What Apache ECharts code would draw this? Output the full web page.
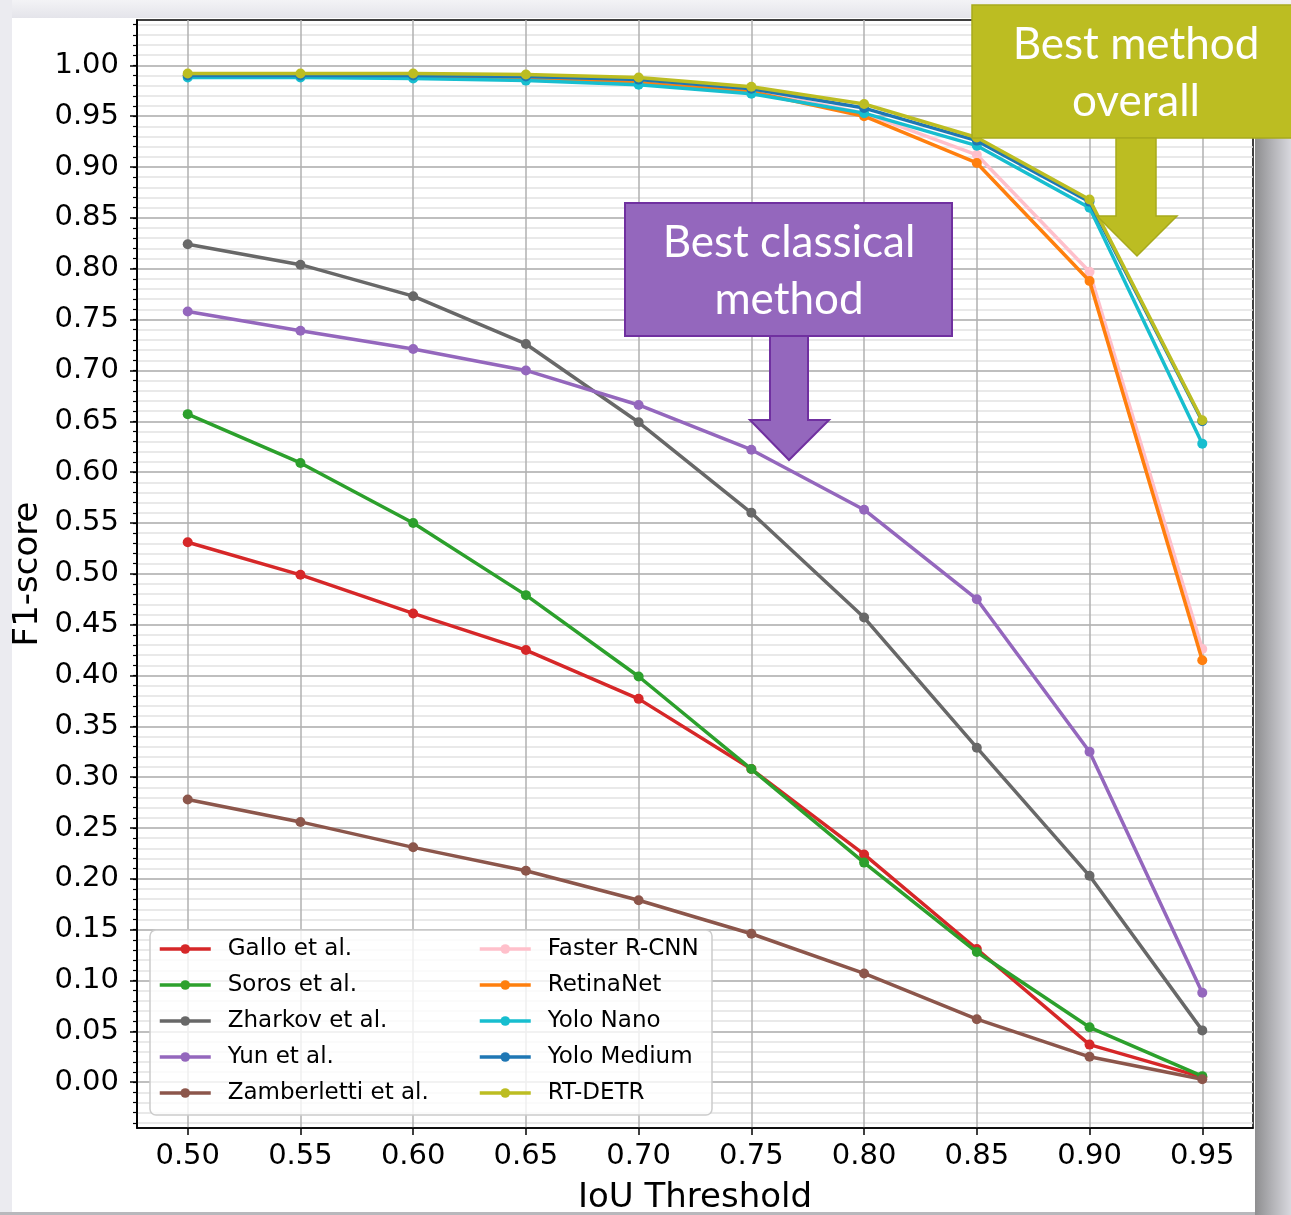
<!DOCTYPE html>
<html><head><meta charset="utf-8">
<script src="https://cdn.jsdelivr.net/npm/echarts@6/dist/echarts.min.js"></script>
<style>html,body{margin:0;padding:0;background:#fff}#c{width:1291px;height:1215px}</style>
</head><body><div id="c"></div>
<script>
// ---- data ----
const iouThresholds = [0.50, 0.55, 0.60, 0.65, 0.70, 0.75, 0.80, 0.85, 0.90, 0.95];
const yTickValues = [0.00,0.05,0.10,0.15,0.20,0.25,0.30,0.35,0.40,0.45,0.50,0.55,0.60,0.65,0.70,0.75,0.80,0.85,0.90,0.95,1.00];
const yMinorTickValues = [-0.04,-0.03,-0.02,-0.01,0.00,0.01,0.02,0.03,0.04,0.05,0.06,0.07,0.08,0.09,0.10,0.11,0.12,0.13,0.14,0.15,
  0.16,0.17,0.18,0.19,0.20,0.21,0.22,0.23,0.24,0.25,0.26,0.27,0.28,0.29,0.30,0.31,0.32,0.33,0.34,0.35,0.36,0.37,0.38,0.39,0.40,
  0.41,0.42,0.43,0.44,0.45,0.46,0.47,0.48,0.49,0.50,0.51,0.52,0.53,0.54,0.55,0.56,0.57,0.58,0.59,0.60,0.61,0.62,0.63,0.64,0.65,
  0.66,0.67,0.68,0.69,0.70,0.71,0.72,0.73,0.74,0.75,0.76,0.77,0.78,0.79,0.80,0.81,0.82,0.83,0.84,0.85,0.86,0.87,0.88,0.89,0.90,
  0.91,0.92,0.93,0.94,0.95,0.96,0.97,0.98,0.99,1.00,1.01,1.02,1.03,1.04];
const seriesNames = ['Gallo et al.', 'Soros et al.', 'Zharkov et al.', 'Yun et al.', 'Zamberletti et al.',
                     'Faster R-CNN', 'RetinaNet', 'Yolo Nano', 'Yolo Medium', 'RT-DETR'];
const gallo       = [0.531, 0.499, 0.461, 0.425, 0.377, 0.308, 0.224, 0.131, 0.037, 0.005];
const soros       = [0.657, 0.609, 0.550, 0.479, 0.399, 0.308, 0.216, 0.128, 0.054, 0.006];
const zharkov     = [0.824, 0.804, 0.773, 0.726, 0.649, 0.560, 0.457, 0.329, 0.203, 0.051];
const yun         = [0.758, 0.739, 0.721, 0.700, 0.666, 0.622, 0.563, 0.475, 0.325, 0.088];
const zamberletti = [0.278, 0.256, 0.231, 0.208, 0.179, 0.146, 0.107, 0.062, 0.025, 0.003];
const fasterRcnn  = [0.990, 0.990, 0.989, 0.988, 0.984, 0.975, 0.953, 0.912, 0.797, 0.426];
const retinaNet   = [0.990, 0.990, 0.989, 0.987, 0.983, 0.974, 0.950, 0.904, 0.788, 0.415];
const yoloNano    = [0.988, 0.988, 0.987, 0.985, 0.981, 0.972, 0.953, 0.921, 0.860, 0.628];
const yoloMedium  = [0.990, 0.990, 0.990, 0.989, 0.986, 0.977, 0.958, 0.926, 0.866, 0.650];
const rtDetr      = [0.992, 0.992, 0.992, 0.991, 0.988, 0.979, 0.962, 0.929, 0.868, 0.651];
const allValues = [gallo, soros, zharkov, yun, zamberletti, fasterRcnn, retinaNet, yoloNano, yoloMedium, rtDetr];
const colors = ['#d62728', '#2ca02c', '#686868', '#9467bd', '#8c564b',
                '#ffc0cb', '#ff7f0e', '#17becf', '#1f77b4', '#bcbd22'];

const FONT = 'DejaVu Sans';
const Y_MIN = -0.045, Y_MAX = 1.0446;
const chart = echarts.init(document.getElementById('c'), null, {renderer: 'canvas'});

const series = seriesNames.map((name, i) => ({
  name: name,
  type: 'line',
  xAxisIndex: 0,
  yAxisIndex: 1,
  data: iouThresholds.map((x, j) => [x, allValues[i][j]]),
  symbol: 'circle',
  symbolSize: 10,
  showSymbol: true,
  color: colors[i],
  lineStyle: {width: 3.5, color: colors[i]},
  itemStyle: {color: colors[i]},
  z: 2 + i * 0.01,
  animation: false
}));

const legendCommon = {
  orient: 'vertical',
  itemWidth: 51,
  itemHeight: 12,
  itemGap: 10,
  padding: 0,
  selectedMode: false,
  z: 10,
  lineStyle: {width: 3.5},
  textStyle: {fontFamily: FONT, fontSize: 23, color: '#000', lineHeight: 26, padding: [0, 0, 0, 12]}
};

const option = {
  backgroundColor: '#ffffff',
  animation: false,
  grid: {left: 137, right: 38, top: 20, bottom: 87, show: true, borderColor: '#000', borderWidth: 1.5,
         backgroundColor: 'transparent', outerBoundsMode: 'none', containLabel: false},
  xAxis: [{
    type: 'value',
    min: 0.4775, max: 0.9725,
    name: 'IoU Threshold',
    nameLocation: 'middle',
    nameGap: 53,
    nameTextStyle: {fontFamily: FONT, fontSize: 34, color: '#000'},
    axisLine: {show: true, onZero: false, lineStyle: {color: '#000', width: 1.5}},
    axisTick: {show: true, length: 7, customValues: iouThresholds, lineStyle: {color: '#000', width: 1.5}},
    axisLabel: {customValues: iouThresholds, formatter: v => v.toFixed(2), fontFamily: FONT, fontSize: 29, color: '#000', margin: 14},
    splitLine: {show: true, lineStyle: {color: '#b0b0b0', width: 1.5}}
  }],
  yAxis: [{
    type: 'value',
    min: Y_MIN, max: Y_MAX,
    position: 'left',
    axisLine: {show: true, onZero: false, lineStyle: {color: '#000', width: 1.5}},
    axisTick: {show: true, length: 4, customValues: yMinorTickValues, lineStyle: {color: '#000', width: 1.2}},
    axisLabel: {show: false},
    splitLine: {show: true, lineStyle: {color: '#e2e2e2', width: 1.5}}
  }, {
    type: 'value',
    min: Y_MIN, max: Y_MAX,
    position: 'left',
    name: 'F1-score',
    nameLocation: 'middle',
    nameRotate: 90,
    nameGap: 92,
    nameMoveOverlap: false,
    nameTextStyle: {fontFamily: FONT, fontSize: 34, color: '#000'},
    axisLine: {show: true, onZero: false, lineStyle: {color: '#000', width: 1.5}},
    axisTick: {show: true, length: 7, customValues: yTickValues, lineStyle: {color: '#000', width: 1.5}},
    axisLabel: {customValues: yTickValues, formatter: v => v.toFixed(2), fontFamily: FONT, fontSize: 29, color: '#000', margin: 18},
    splitLine: {show: true, lineStyle: {color: '#b0b0b0', width: 1.5}}
  }],
  legend: [
    Object.assign({}, legendCommon, {left: 158, top: 936, data: seriesNames.slice(0, 5)}),
    Object.assign({}, legendCommon, {left: 478, top: 936, data: seriesNames.slice(5)})
  ],
  series: series,
  graphic: [
    // slide surroundings
    {type: 'rect', z: -10, silent: true, shape: {x: 0, y: 0, width: 1291, height: 18},
     style: {fill: new echarts.graphic.LinearGradient(0, 0, 0, 1, [{offset: 0, color: '#f3f3f6'}, {offset: 1, color: '#e4e4ea'}])}},
    {type: 'rect', z: -10, silent: true, shape: {x: 0, y: 0, width: 12, height: 1215}, style: {fill: '#ebebf0'}},
    {type: 'rect', z: -10, silent: true, shape: {x: 0, y: 1212, width: 1291, height: 3}, style: {fill: '#b8b8bc'}},
    {type: 'rect', z: -10, silent: true, shape: {x: 1255, y: 18, width: 36, height: 1197},
     style: {fill: new echarts.graphic.LinearGradient(0, 0, 1, 0, [{offset: 0, color: '#8e8e90'}, {offset: 0.5, color: '#b4b4b8'}, {offset: 1, color: '#d8d8de'}])}},
    // legend frame
    {type: 'rect', z: 5, silent: true, shape: {x: 150, y: 930, width: 562, height: 185, r: 6},
     style: {fill: 'rgba(255,255,255,0.8)', stroke: '#cccccc', lineWidth: 1.5}},
    // purple annotation
    {type: 'rect', z: 100, silent: true, shape: {x: 625, y: 203, width: 327, height: 133},
     style: {fill: '#9467bd', stroke: '#7030a0', lineWidth: 2}},
    {type: 'polygon', z: 100, silent: true,
     shape: {points: [[770, 336], [808, 336], [808, 420], [829, 420], [789, 460], [750, 420], [770, 420]]},
     style: {fill: '#9467bd', stroke: '#7030a0', lineWidth: 2}},
    {type: 'text', z: 101, silent: true, x: 789, y: 271,
     style: {text: 'Best classical\nmethod', fill: '#fff', font: '44px Lato', lineHeight: 57, align: 'center', verticalAlign: 'middle'}},
    // olive annotation
    {type: 'rect', z: 100, silent: true, shape: {x: 972, y: 5, width: 330, height: 133},
     style: {fill: '#bcbd22', stroke: '#a8aa1c', lineWidth: 1.5}},
    {type: 'polygon', z: 100, silent: true,
     shape: {points: [[1116, 138], [1156, 138], [1156, 216], [1177, 216], [1137, 256], [1097, 216], [1116, 216]]},
     style: {fill: '#bcbd22', stroke: '#a8aa1c', lineWidth: 1.5}},
    {type: 'text', z: 101, silent: true, x: 1136, y: 73,
     style: {text: 'Best method\noverall', fill: '#fff', font: '44px Lato', lineHeight: 57, align: 'center', verticalAlign: 'middle'}}
  ]
};
chart.setOption(option);
</script></body></html>
